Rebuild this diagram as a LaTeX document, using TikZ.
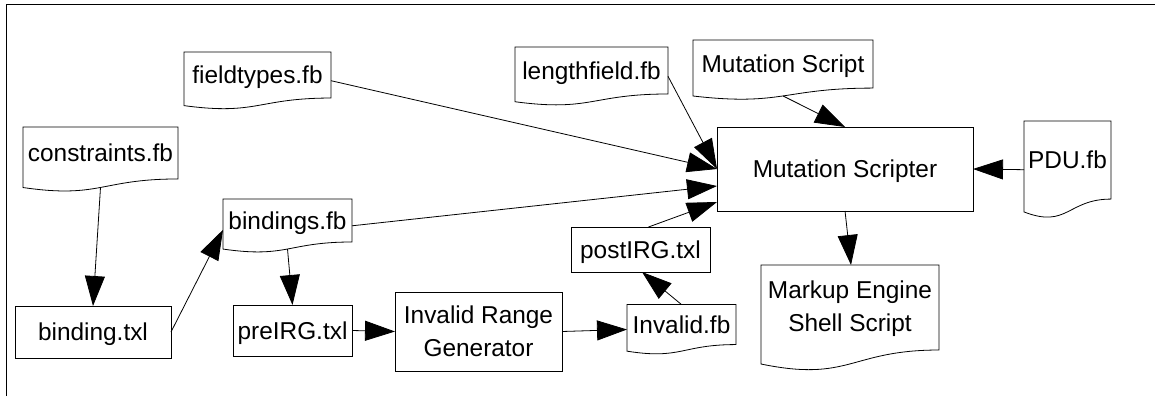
\documentclass[tikz,border=0pt]{standalone}
\usepackage{fontspec}
\setmainfont{Liberation Sans}
\usetikzlibrary{arrows.meta,calc}
\begin{document}
\begin{tikzpicture}[x=1pt,y=-1pt,
  lbl/.style={font=\fontsize{24.4}{33}\selectfont, inner sep=0pt, outer sep=0pt, rectangle},
  plainbox/.style={lbl, draw, line width=0.8pt, text height=17.5pt, text depth=0pt},
  twobox/.style={lbl, draw, line width=0.8pt, align=center},
  docbox/.style={lbl, text height=17.5pt},
  docline/.style={draw, line width=0.8pt},
  arr/.style={-{Triangle[length=30pt,width=20pt]}, line width=0.8pt},
  frameline/.style={line width=1pt}]
\useasboundingbox (0,0) rectangle (1155,396);
\draw[frameline] (6,396) -- (6,5) -- (1155,5);

% document-shaped nodes
\node[docbox, minimum width=147pt, minimum height=57.4pt, text depth=11.5pt] (fieldtypes) at (257.5,80.7) {fieldtypes.fb};
\node[docbox, minimum width=155pt, minimum height=64.8pt, text depth=13pt] (constraints) at (100.5,159.4) {constraints.fb};
\node[docbox, minimum width=129pt, minimum height=53.6pt, text depth=10.7pt] (bindings) at (287.5,225.8) {bindings.fb};
\node[docbox, minimum width=109pt, minimum height=49.9pt, text depth=10pt] (invalid) at (681.5,329.5) {Invalid.fb};
\node[docbox, minimum width=153pt, minimum height=58.6pt, text depth=11.7pt] (lengthfield) at (591.5,76.3) {lengthfield.fb};
\node[docbox, minimum width=180pt, minimum height=59.9pt, text depth=12pt] (mscript) at (783,70) {Mutation Script};
\node[docbox, minimum width=87pt, minimum height=97.3pt, text depth=19.5pt] (pdu) at (1067.5,169.7) {PDU.fb};
\node[lbl, align=center, minimum width=178pt, minimum height=106pt, text height=50.8pt, text depth=24.8pt] (markup) at (850,318) {Markup Engine\\Shell Script};

% rectangular nodes
\node[plainbox, minimum width=156pt, minimum height=52pt] (binding) at (93,332) {binding.txl};
\node[plainbox, minimum width=119pt, minimum height=51pt] (preirg) at (292.5,330.5) {preIRG.txl};
\node[twobox, minimum width=167pt, minimum height=79pt] (irg) at (478.5,331.5) {Invalid Range\\Generator};
\node[plainbox, minimum width=139pt, minimum height=45pt] (postirg) at (640.5,249.5) {postIRG.txl};
\node[plainbox, minimum width=256pt, minimum height=84pt] (ms) at (845,169) {Mutation Scripter};

% outlines of the document shapes
\foreach \dn in {fieldtypes,constraints,bindings,invalid,lengthfield,mscript,pdu,markup}{
  \draw[docline] let \p1=(\dn.north west), \p2=(\dn.south east), \n1={\y1-\y2} in
    (\p1) -- (\x2,\y1) -- (\x2,{\y2+0.198*\n1})
    .. controls ({(\x1+\x2)/2},{\y2+0.198*\n1}) and ({(\x1+\x2)/2},{\y2-0.1075*\n1}) ..
    (\x1,{\y2+0.066*\n1}) -- cycle;
}

% bottom points of the wavy edges
\coordinate (constraintsb) at ($(constraints.south)!0.067!(constraints.north)$);
\coordinate (bindingsb) at ($(bindings.south)!0.067!(bindings.north)$);
\coordinate (mscriptb) at ($(mscript.south)!0.067!(mscript.north)$);

% connectors
\draw[arr] (constraintsb) -- (binding.north);
\draw[arr] (binding.east) -- ([yshift=-4pt]bindings.west);
\draw[arr] (bindingsb) -- (preirg.north);
\draw[arr] (preirg.east) -- (irg.west);
\draw[arr] (irg.east) -- (invalid.west);
\draw[arr] (invalid.north) -- ([xshift=1.5pt]postirg.south);
\draw[arr] ([xshift=8pt]postirg.north) -- ([yshift=-33pt]ms.west);
\draw[arr] (bindings.east) -- ([yshift=-17pt]ms.west);
\draw[arr] (fieldtypes.east) -- (ms.west);
\draw[arr] (lengthfield.east) -- (ms.west);
\draw[arr] (mscriptb) -- (ms.north);
\draw[arr] (pdu.west) -- (ms.east);
\draw[arr] (ms.south) -- ([xshift=1pt]markup.north);
\end{tikzpicture}
\end{document}
